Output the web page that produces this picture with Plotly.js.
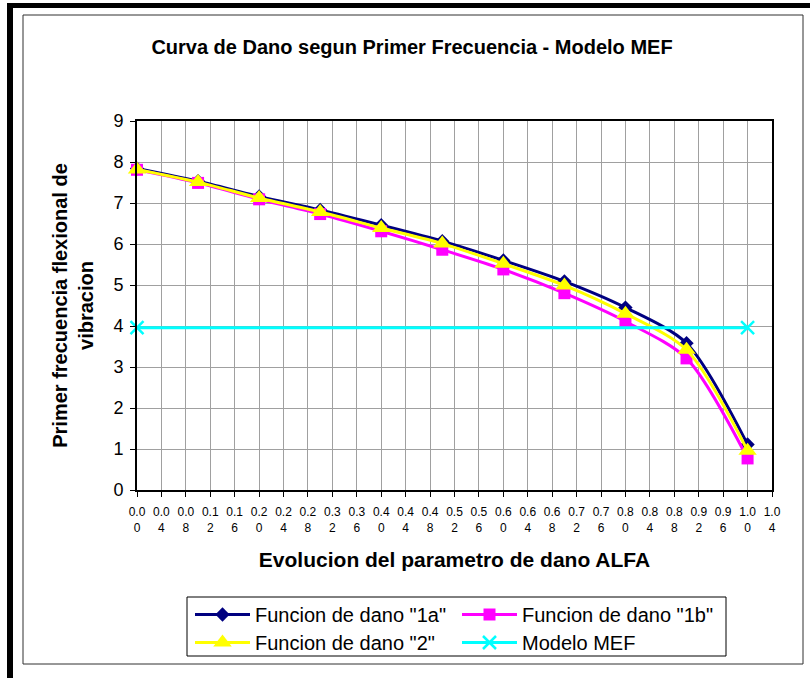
<!DOCTYPE html>
<html><head><meta charset="utf-8">
<script src="https://cdn.plot.ly/plotly-3.0.1.min.js"></script>
<style>html,body{margin:0;padding:0;background:#fff}#chart{width:810px;height:678px}</style>
</head><body><div id="chart"></div>
<script>
// ---- data ----
const alfa   = [0.0, 0.1, 0.2, 0.3, 0.4, 0.5, 0.6, 0.7, 0.8, 0.9, 1.0];
const dano1a = [7.84, 7.53, 7.16, 6.83, 6.46, 6.07, 5.60, 5.09, 4.45, 3.58, 1.11];
const dano1b = [7.81, 7.49, 7.09, 6.73, 6.31, 5.86, 5.38, 4.80, 4.11, 3.21, 0.77];
const dano2  = [7.82, 7.51, 7.12, 6.78, 6.39, 6.01, 5.52, 4.99, 4.30, 3.42, 0.96];
const mefAlfa = [0.0, 1.0];
const mefFreq = [3.96, 3.96];
const xTickLabels = ["0.00","0.04","0.08","0.12","0.16","0.20","0.24","0.28","0.32","0.36",
  "0.40","0.44","0.48","0.52","0.56","0.60","0.64","0.68","0.72","0.76","0.80","0.84",
  "0.88","0.92","0.96","1.00","1.04"];
const yTickLabels = ["0","1","2","3","4","5","6","7","8","9"];
const seriesNames = ['Funcion de dano "1a"', 'Funcion de dano "1b"', 'Funcion de dano "2"', 'Modelo MEF'];

// ---- geometry helpers (plot area in pixels) ----
const L = 137, T = 121, W = 635, H = 369;
const px = x => (x - L) / W;
const py = y => (T + H - y) / H;
const FONT = '"Liberation Sans", Arial, sans-serif';

const traces = [
  {x: alfa, y: dano1a, name: seriesNames[0], type: 'scatter', mode: 'lines+markers', legend: 'legend',
   cliponaxis: false,
   line: {color: '#000080', width: 3, shape: 'spline', smoothing: 0.8},
   marker: {symbol: 'diamond', size: 11, color: '#000080'}},
  {x: alfa, y: dano1b, name: seriesNames[1], type: 'scatter', mode: 'lines+markers', legend: 'legend',
   cliponaxis: false,
   line: {color: '#FF00FF', width: 3, shape: 'spline', smoothing: 0.8},
   marker: {symbol: 'square', size: 12, color: '#FF00FF'}},
  {x: alfa, y: dano2, name: seriesNames[2], type: 'scatter', mode: 'lines+markers', legend: 'legend2',
   cliponaxis: false,
   line: {color: '#FFFF00', width: 3, shape: 'spline', smoothing: 0.8},
   marker: {symbol: 'triangle-up', size: 16, color: '#FFFF00'}},
  {x: mefAlfa, y: mefFreq, name: seriesNames[3], type: 'scatter', mode: 'lines+markers', legend: 'legend2',
   cliponaxis: false,
   line: {color: '#00FFFF', width: 3},
   marker: {symbol: 'x-thin-open', size: 13, color: '#00FFFF', line: {color: '#00FFFF', width: 2.5}}}
];

const legendCommon = {orientation: 'h', xanchor: 'left', yanchor: 'top',
  bgcolor: 'rgba(0,0,0,0)', borderwidth: 0, entrywidth: 197, entrywidthmode: 'pixels', itemwidth: 55,
  font: {family: FONT, size: 20, color: '#000'}, traceorder: 'normal'};

const layout = {
  width: 810, height: 678,
  margin: {l: L, r: 810 - L - W, t: T, b: 678 - T - H, pad: 0},
  paper_bgcolor: '#ffffff', plot_bgcolor: '#ffffff',
  font: {family: FONT, color: '#000000'},
  title: {text: 'Curva de Dano segun Primer Frecuencia - Modelo MEF',
          font: {family: FONT, size: 20, weight: 'bold', color: '#000'},
          xref: 'container', yref: 'container', x: 412 / 810, y: 1 - 47 / 678,
          xanchor: 'center', yanchor: 'middle'},
  xaxis: {
    range: [0, 1.04], tickmode: 'array',
    tickvals: xTickLabels.map(Number),
    ticktext: xTickLabels.map(s => s.slice(0, 3) + '<br>' + s.slice(3)),
    tickfont: {family: FONT, size: 12, color: '#000'}, ticklabelstandoff: 5,
    ticks: 'outside', ticklen: 5, tickcolor: '#000', tickwidth: 1,
    showline: true, linecolor: '#000', linewidth: 2, mirror: true,
    showgrid: true, gridcolor: '#a0a0a0', gridwidth: 1, zeroline: false,
    title: {text: 'Evolucion del parametro de dano ALFA', standoff: 18,
            font: {family: FONT, size: 21, weight: 'bold', color: '#000'}},
    fixedrange: true
  },
  yaxis: {
    range: [0, 9], tickmode: 'array',
    tickvals: yTickLabels.map(Number), ticktext: yTickLabels,
    tickfont: {family: FONT, size: 18, color: '#000'}, ticklabelstandoff: 3,
    ticks: 'outside', ticklen: 5, tickcolor: '#000', tickwidth: 1,
    showline: true, linecolor: '#000', linewidth: 2, mirror: true,
    showgrid: true, gridcolor: '#a0a0a0', gridwidth: 1, zeroline: false,
    title: {text: 'Primer frecuencia flexional de<br>vibracion', standoff: 14,
            font: {family: FONT, size: 20, weight: 'bold', color: '#000'}},
    fixedrange: true
  },
  legend: Object.assign({}, legendCommon, {x: px(190), y: py(595)}),
  legend2: Object.assign({}, legendCommon, {x: px(190), y: py(623)}),
  shapes: [
    {type: 'rect', xref: 'paper', yref: 'paper', x0: px(7), x1: px(13), y0: py(678), y1: py(3),
     fillcolor: '#000', line: {width: 0}, layer: 'below'},
    {type: 'rect', xref: 'paper', yref: 'paper', x0: px(7), x1: px(810), y0: py(8), y1: py(3),
     fillcolor: '#000', line: {width: 0}, layer: 'below'},
    {type: 'rect', xref: 'paper', yref: 'paper', x0: px(23), x1: px(803), y0: py(664), y1: py(15),
     line: {color: '#303030', width: 1}, layer: 'below'},
    {type: 'rect', xref: 'paper', yref: 'paper', x0: px(187), x1: px(726), y0: py(656), y1: py(597),
     line: {color: '#000', width: 1}, layer: 'below'}
  ],
  showlegend: true
};

Plotly.newPlot('chart', traces, layout, {staticPlot: true, displayModeBar: false});
</script>
</body></html>
